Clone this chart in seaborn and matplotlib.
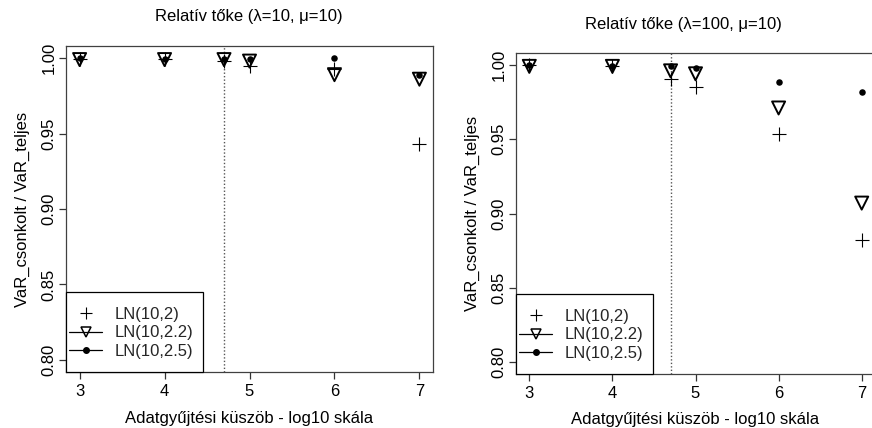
import numpy as np
import pandas as pd
import matplotlib
matplotlib.use("Agg")
import matplotlib.pyplot as plt
from matplotlib.lines import Line2D
from matplotlib.patches import Rectangle
import seaborn as sns

# ---- data ----
thresholds = [3, 4, 4.7, 5, 6, 7]
cut_line = 4.7
series_names = ["LN(10,2)", "LN(10,2.2)", "LN(10,2.5)"]

left_ln2 = [0.9997, 0.9995, 0.998, 0.9947, 0.9925, 0.943]
left_ln22 = [0.999, 0.999, 0.999, 0.998, 0.989, 0.986]
left_ln25 = [0.9998, 0.9995, 0.9995, 0.9995, 0.9998, 0.989]

right_ln2 = [0.9997, 0.9992, 0.9905, 0.985, 0.9536, 0.882]
right_ln22 = [0.999, 0.999, 0.996, 0.994, 0.971, 0.907]
right_ln25 = [0.9998, 0.9995, 0.999, 0.998, 0.9883, 0.9817]

titles = ["Relatív tőke (\u03bb=10, \u03bc=10)", "Relatív tőke (\u03bb=100, \u03bc=10)"]
xlabel = "Adatgyűjtési küszöb - log10 skála"
ylabel = "VaR_csonkolt / VaR_teljes"
yticks = [0.80, 0.85, 0.90, 0.95, 1.00]
xticks = [3, 4, 5, 6, 7]

sns.set_theme(style="white")
plt.rcParams["font.family"] = ["Liberation Sans", "DejaVu Sans"]

W, H = 872, 428
fig = plt.figure(figsize=(W / 100, H / 100), dpi=100)

def add_ax(x0, x1, top, bottom):
    return fig.add_axes([x0 / W, 1 - bottom / H, (x1 - x0) / W, (bottom - top) / H])

ax_l = add_ax(66, 433, 46, 372)
ax_r = add_ax(516, 875, 53, 374)

panels = [
    (ax_l, (367, 326), left_ln2, left_ln22, left_ln25, titles[0], (249, 17), 8.6),
    (ax_r, (359, 321), right_ln2, right_ln22, right_ln25, titles[1], (683, 25), 7.6),
]

for ax, (axw, axh), s2, s22, s25, title, tpos, xlpad in panels:
    df = pd.DataFrame({"x": thresholds, "a": s2, "b": s22, "c": s25})
    ax.axvline(cut_line, color="#555555", lw=1.0, ls=(0, (1, 1.5)), zorder=1)
    sns.scatterplot(data=df, x="x", y="a", marker="+", s=95, color="black",
                    linewidth=0.8, ax=ax, legend=False, zorder=3)
    sns.scatterplot(data=df, x="x", y="b", marker="v", s=88, color="black",
                    linewidth=1.4, ax=ax, legend=False, zorder=3)
    ax.collections[-1].set_facecolor("none")
    ax.collections[-1].set_edgecolor("black")
    sns.scatterplot(data=df, x="x", y="c", marker="o", s=22, color="black",
                    linewidth=0, ax=ax, legend=False, zorder=4)

    ax.set_xlim(2.84, 7.16)
    ax.set_ylim(0.792, 1.008)
    ax.set_xticks(xticks)
    ax.set_xticklabels([str(t) for t in xticks])
    ax.set_yticks(yticks)
    ax.set_yticklabels([f"{t:.2f}" for t in yticks], rotation=90, va="center")
    ax.tick_params(axis="both", direction="out", length=5, width=0.9,
                   color="#333333", labelsize=12, labelcolor="black",
                   bottom=True, left=True, top=False, right=False, pad=4)
    ax.tick_params(axis="y", pad=2)
    for sp in ax.spines.values():
        sp.set_color("#404040")
        sp.set_linewidth(0.9)
    ax.set_xlabel(xlabel, fontsize=12, labelpad=xlpad, color="black")
    ax.set_ylabel(ylabel, fontsize=12, labelpad=8, color="black")
    fig.text(tpos[0] / W, 1 - tpos[1] / H, title, ha="center", va="center",
             fontsize=12, color="black")

    # legend frame (R-style box in the lower-left corner)
    frame = Rectangle((0, 0), 137 / axw, 80 / axh, transform=ax.transAxes,
                      facecolor="white", edgecolor="black", lw=0.9,
                      zorder=5, clip_on=False)
    ax.add_patch(frame)
    handles = [
        Line2D([], [], marker="+", ls="none", color="black", ms=8.5, mew=0.8),
        Line2D([], [], marker="v", ls="-", lw=0.9, color="black", ms=7.5,
               mfc="none", mew=1.1),
        Line2D([], [], marker="o", ls="-", lw=0.9, color="black", ms=4.0),
    ]
    leg = ax.legend(handles, series_names, loc="center left",
                    bbox_to_anchor=(3 / axw, 39 / axh), borderaxespad=0,
                    fontsize=12, frameon=False, borderpad=0, handlelength=1.98,
                    handletextpad=0.78, labelspacing=0.2)
    leg.set_zorder(6)

fig.savefig("out.png", dpi=100)
